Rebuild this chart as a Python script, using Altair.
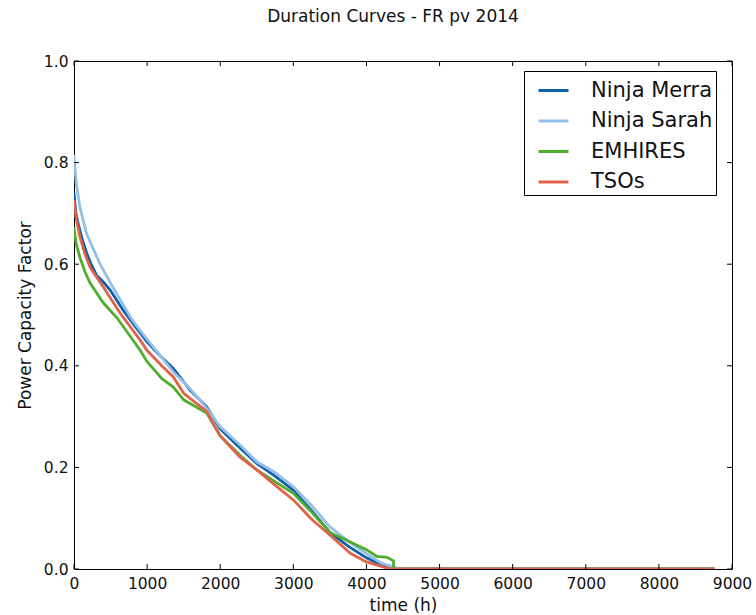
import altair as alt
import pandas as pd

# Series names and line colours
series_names = ["Ninja Merra", "Ninja Sarah", "EMHIRES", "TSOs"]
series_colors = ["#0f5fa8", "#94bfe9", "#4fae2d", "#e0624a"]

# Sorted hourly capacity factors (duration curves), sampled at break points
merra_hours = [0, 25, 55, 110, 173, 240, 310, 400, 490, 670, 850, 1000, 1176, 1358, 1587, 1815, 2000, 2271, 2500, 2750, 3000, 3250, 3500, 3750, 4000, 4200, 4380, 8760]
merra_cf = [0.74, 0.70, 0.681, 0.65, 0.622, 0.598, 0.578, 0.565, 0.55, 0.51, 0.475, 0.447, 0.42, 0.395, 0.352, 0.319, 0.276, 0.238, 0.208, 0.183, 0.155, 0.115, 0.072, 0.045, 0.022, 0.008, 0.0, 0.0]

sarah_hours = [0, 30, 80, 170, 350, 530, 770, 900, 1000, 1358, 1587, 1815, 2000, 2271, 2500, 2750, 3000, 3250, 3500, 3750, 4000, 4200, 4450, 8760]
sarah_cf = [0.815, 0.76, 0.713, 0.661, 0.602, 0.555, 0.496, 0.47, 0.452, 0.388, 0.355, 0.316, 0.28, 0.244, 0.211, 0.19, 0.162, 0.125, 0.083, 0.055, 0.03, 0.012, 0.0, 0.0]

emhires_hours = [0, 30, 80, 150, 220, 400, 590, 903, 1000, 1200, 1358, 1500, 1815, 2000, 2271, 2500, 2750, 3000, 3250, 3500, 3750, 4000, 4140, 4280, 4370, 4371, 8760]
emhires_cf = [0.673, 0.64, 0.614, 0.585, 0.563, 0.524, 0.494, 0.431, 0.408, 0.375, 0.358, 0.333, 0.307, 0.262, 0.224, 0.195, 0.172, 0.149, 0.112, 0.072, 0.055, 0.038, 0.025, 0.023, 0.016, 0.0, 0.0]

tsos_hours = [0, 30, 80, 150, 220, 400, 630, 903, 1000, 1200, 1358, 1500, 1815, 2000, 2271, 2500, 2750, 3000, 3250, 3500, 3780, 4000, 4180, 4330, 8760]
tsos_cf = [0.726, 0.69, 0.654, 0.62, 0.594, 0.555, 0.504, 0.451, 0.43, 0.40, 0.378, 0.346, 0.31, 0.262, 0.22, 0.195, 0.165, 0.136, 0.098, 0.067, 0.031, 0.014, 0.006, 0.0, 0.0]

# Tick positions for the frame
x_ticks = [0, 1000, 2000, 3000, 4000, 5000, 6000, 7000, 8000, 9000]
y_ticks = [0.0, 0.2, 0.4, 0.6, 0.8, 1.0]

FONT = "DejaVu Sans"

rows = []
for name, hrs, vals in zip(
    series_names,
    [merra_hours, sarah_hours, emhires_hours, tsos_hours],
    [merra_cf, sarah_cf, emhires_cf, tsos_cf],
):
    for i, (h, v) in enumerate(zip(hrs, vals)):
        rows.append({"series": name, "hours": h, "cf": v, "idx": i})
df = pd.DataFrame(rows)

x_scale = alt.Scale(domain=[0, 9000], nice=False, zero=False)
y_scale = alt.Scale(domain=[0, 1], nice=False, zero=False)

x_axis = alt.Axis(
    values=x_ticks, format="d", title="time (h)", ticks=False, domain=False,
    grid=False, labelPadding=7, titlePadding=6, labelFlush=False,
)
y_axis = alt.Axis(
    values=y_ticks, format=".1f", title="Power Capacity Factor", ticks=False,
    domain=False, grid=False, labelPadding=6, titlePadding=9, labelFlush=False,
)

lines = alt.Chart(df).mark_line(strokeWidth=2.8, clip=True).encode(
    x=alt.X("hours:Q", scale=x_scale, axis=x_axis),
    y=alt.Y("cf:Q", scale=y_scale, axis=y_axis),
    color=alt.Color(
        "series:N",
        scale=alt.Scale(domain=series_names, range=series_colors),
        sort=series_names,
        legend=alt.Legend(
            title=None,
            orient="none",
            legendX=450,
            legendY=10,
            symbolType="stroke",
            symbolSize=900,
            symbolStrokeWidth=3,
            symbolOffset=10,
            labelFontSize=21,
            labelFont=FONT,
            labelColor="#111",
            labelOffset=21,
            rowPadding=3.5,
            padding=3,
            strokeColor="#000",
            fillColor="#fff",
            labelLimit=300,
        ),
    ),
    order=alt.Order("idx:Q"),
)

xt = pd.DataFrame({"tick": x_ticks})
yt = pd.DataFrame({"tick": y_ticks})

# Inward-pointing ticks on all four sides of the frame
bottom_ticks = alt.Chart(xt).mark_rule(color="#000", strokeWidth=1, y2Offset=-5).encode(
    x=alt.X("tick:Q", scale=x_scale), y=alt.datum(0), y2=alt.datum(0)
)
top_ticks = alt.Chart(xt).mark_rule(color="#000", strokeWidth=1, y2Offset=5).encode(
    x=alt.X("tick:Q", scale=x_scale), y=alt.datum(1), y2=alt.datum(1)
)
left_ticks = alt.Chart(yt).mark_rule(color="#000", strokeWidth=1, x2Offset=5).encode(
    y=alt.Y("tick:Q", scale=y_scale), x=alt.datum(0), x2=alt.datum(0)
)
right_ticks = alt.Chart(yt).mark_rule(color="#000", strokeWidth=1, x2Offset=-5).encode(
    y=alt.Y("tick:Q", scale=y_scale), x=alt.datum(9000), x2=alt.datum(9000)
)

chart = (
    alt.layer(lines, bottom_ticks, top_ticks, left_ticks, right_ticks)
    .properties(
        width=658,
        height=508,
        autosize=alt.AutoSizeParams(type="none"),
        padding={"left": 74, "top": 61, "right": 24, "bottom": 46},
        title=alt.TitleParams(
            "Duration Curves - FR pv 2014",
            font=FONT,
            fontSize=17,
            fontWeight="normal",
            color="#111",
            anchor="middle",
            dx=-10,
            offset=28,
        ),
        background="white",
    )
    .configure_view(stroke="#000", strokeWidth=1)
    .configure_axis(
        labelFont=FONT,
        labelFontSize=15.5,
        labelColor="#111",
        titleFont=FONT,
        titleFontSize=17,
        titleFontWeight="normal",
        titleColor="#111",
    )
)

chart.save("out.html", embed_options={"renderer": "svg", "actions": False})
